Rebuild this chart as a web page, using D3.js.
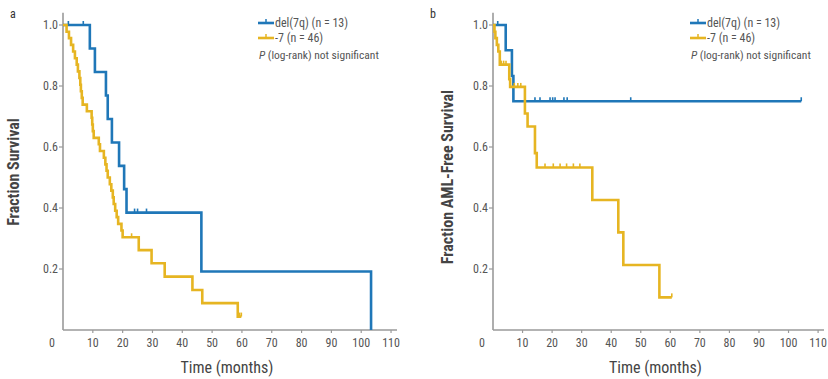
<!DOCTYPE html>
<html><head><meta charset="utf-8">
<script src="https://cdn.jsdelivr.net/npm/d3@7/dist/d3.min.js"></script>
<style>
body{margin:0;background:#fff;}
text{font-family:"Liberation Sans Narrow","Roboto Condensed","Liberation Sans",Arial,sans-serif;}
</style></head><body>
<svg id="c" width="828" height="379"></svg>
<script>
// ---- Data ----
const xTicks = [10,20,30,40,50,60,70,80,90,100,110];
const yTicks = [0.2,0.4,0.6,0.8,1.0];

// Panel a: overall survival
const aBlueT = [0, 9, 10.7, 14.4, 15, 16.4, 18.8, 20.5, 21.3, 46.4, 103.3];
const aBlueS = [1, 0.923, 0.846, 0.769, 0.692, 0.615, 0.538, 0.462, 0.385, 0.192, 0];
const aBlueCens = [1.8, 6.8, 24, 25, 28];

const aYellowT = [0, 1.2, 2, 2.7, 3.4, 4, 4.6, 5, 5.5, 5.8, 6, 6.3, 6.6, 8, 9.6, 9.8, 10, 10.3, 12, 12.4, 13.7, 14.2, 14.6, 15, 15.7, 16.2, 16.7, 17, 17.5, 18, 18.5, 19.6, 20, 25.4, 29.7, 34.1, 43.4, 46.7, 58.6, 59.8];
const aYellowS = [1, 0.978, 0.957, 0.935, 0.913, 0.891, 0.870, 0.848, 0.826, 0.804, 0.783, 0.761, 0.739, 0.717, 0.696, 0.674, 0.652, 0.630, 0.609, 0.587, 0.565, 0.543, 0.522, 0.500, 0.478, 0.457, 0.435, 0.413, 0.391, 0.370, 0.348, 0.326, 0.304, 0.262, 0.219, 0.175, 0.131, 0.088, 0.044, 0.044];
const aYellowCens = [23, 59.2, 59.8];

// Panel b: AML-free survival
const bBlueT = [0, 4.3, 6.4, 6.9, 104.3];
const bBlueS = [1, 0.917, 0.833, 0.75, 0.75];
const bBlueCens = [1.6, 14.2, 15.9, 19.3, 20.2, 21, 24, 25.1, 46.6, 104.3];

const bYellowT = [0, 0.5, 0.8, 1.3, 1.8, 2.3, 5.5, 5.8, 10.8, 11.7, 14.2, 14.8, 33.6, 42.4, 44.1, 56.3, 60.5];
const bYellowS = [1, 0.978, 0.957, 0.935, 0.913, 0.870, 0.822, 0.797, 0.710, 0.667, 0.580, 0.533, 0.426, 0.320, 0.213, 0.107, 0.107];
const bYellowCens = [2.8, 3.6, 4.4, 7.2, 8.4, 9.4, 17.6, 20.4, 22.7, 24.9, 27.2, 29.4, 60.5];

const seriesNames = ["del(7q) (n = 13)", "-7 (n = 46)"];
const pNote = "(log-rank) not significant";

const BLUE = "#1f77b8", YELLOW = "#e6b522", AXIS = "#9a9a9a", TXT = "#555";

const svg = d3.select("#c");

function panel(cfg){
  const x = d3.scaleLinear().domain([0,112]).range([cfg.x0, cfg.x1]);
  const y = d3.scaleLinear().domain([0,1]).range([330, 25]);
  const g = svg.append("g");
  g.append("line").attr("x1",x(0)).attr("x2",x(0)).attr("y1",y(0)).attr("y2",y(1.04))
    .attr("stroke",AXIS).attr("stroke-width",1.6);
  g.append("line").attr("x1",x(0)).attr("x2",x(112)).attr("y1",y(0)).attr("y2",y(0))
    .attr("stroke",AXIS).attr("stroke-width",1.6);
  yTicks.forEach(v=>{
    g.append("line").attr("x1",x(0)-4).attr("x2",x(0)).attr("y1",y(v)).attr("y2",y(v)).attr("stroke",AXIS).attr("stroke-width",1.2);
    g.append("text").attr("x",x(0)-5).attr("y",y(v)+4).attr("text-anchor","end")
      .attr("font-size",12).attr("fill",TXT).text(d3.format(".1f")(v));
  });
  xTicks.forEach(v=>{
    g.append("line").attr("x1",x(v)).attr("x2",x(v)).attr("y1",y(0)).attr("y2",y(0)+3).attr("stroke",AXIS).attr("stroke-width",1.2);
    g.append("text").attr("x",x(v)).attr("y",y(0)+17).attr("text-anchor","middle")
      .attr("font-size",12).attr("fill",TXT).text(v);
  });
  g.append("text").attr("x",x(0)-11).attr("y",y(0)+17).attr("text-anchor","middle")
    .attr("font-size",12).attr("fill",TXT).text("0");
  g.append("text").attr("x",(x(0)+x(112))/2 - 3).attr("y",373).attr("text-anchor","middle")
    .attr("font-size",16).attr("fill","#444").text("Time (months)");
  g.append("text").attr("transform",`translate(${cfg.ylx},${cfg.yly}) rotate(-90)`).attr("text-anchor","middle")
    .attr("font-size",16).attr("font-weight","bold").attr("fill","#444").text(cfg.ytitle);
  g.append("text").attr("x",cfg.lx).attr("y",18).attr("font-size",12).attr("fill","#333")
    .attr("font-family","Liberation Sans, Arial, sans-serif").text(cfg.letter);

  const line = d3.line().x(d=>x(d[0])).y(d=>y(d[1])).curve(d3.curveStepAfter);
  cfg.series.forEach(s=>{
    const pts = s.t.map((t,i)=>[t, s.s[i]]);
    g.append("path").attr("d",line(pts)).attr("fill","none").attr("stroke",s.color)
      .attr("stroke-width",2.6).attr("stroke-linejoin","miter");
    const surv = t => { let v = s.s[0]; for(let i=0;i<s.t.length;i++){ if(s.t[i]<=t) v=s.s[i]; } return v; };
    s.c.forEach(t=>{
      g.append("line").attr("x1",x(t)).attr("x2",x(t)).attr("y1",y(surv(t))).attr("y2",y(surv(t))-4)
        .attr("stroke",s.color).attr("stroke-width",1.6);
    });
  });
  const L = cfg.legX;
  [[BLUE,23,seriesNames[0]],[YELLOW,38,seriesNames[1]]].forEach(([c,yy,lab])=>{
    g.append("line").attr("x1",L).attr("x2",L+16).attr("y1",yy).attr("y2",yy).attr("stroke",c).attr("stroke-width",2.6);
    g.append("line").attr("x1",L+8).attr("x2",L+8).attr("y1",yy).attr("y2",yy-4).attr("stroke",c).attr("stroke-width",1.5);
    g.append("text").attr("x",L+17).attr("y",yy+4).attr("font-size",12).attr("fill",TXT).text(lab);
  });
  const pt = g.append("text").attr("x",L+1).attr("y",59).attr("font-size",11.5).attr("fill",TXT);
  pt.append("tspan").attr("font-style","italic").text("P");
  pt.append("tspan").text(" " + pNote);
}

panel({x0:63, x1:397, ylx:19, yly:172, ytitle:"Fraction Survival", letter:"a", lx:10, legX:258,
  series:[{t:aBlueT,s:aBlueS,c:aBlueCens,color:BLUE},{t:aYellowT,s:aYellowS,c:aYellowCens,color:YELLOW}]});
panel({x0:493, x1:824, ylx:453, yly:177, ytitle:"Fraction AML-Free Survival", letter:"b", lx:430, legX:690,
  series:[{t:bBlueT,s:bBlueS,c:bBlueCens,color:BLUE},{t:bYellowT,s:bYellowS,c:bYellowCens,color:YELLOW}]});
</script></body></html>
